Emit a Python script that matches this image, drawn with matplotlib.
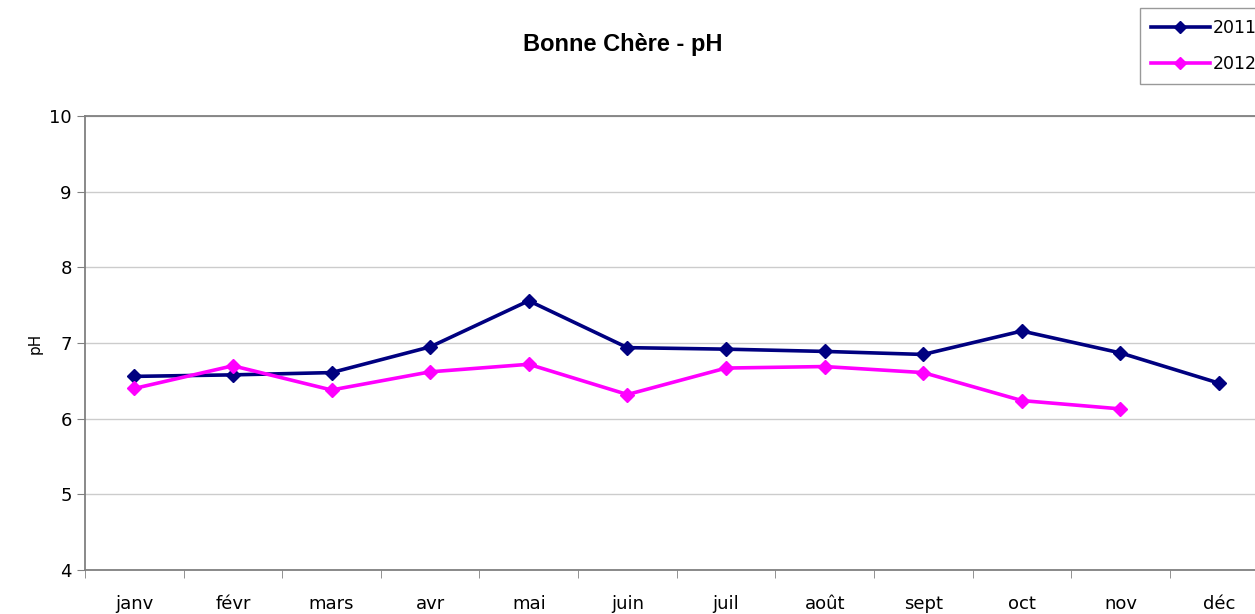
import numpy as np
import matplotlib.pyplot as plt

mois = ['janv', 'févr', 'mars', 'avr', 'mai', 'juin', 'juil', 'août', 'sept', 'oct', 'nov', 'déc']
ph_2011 = [6.56, 6.58, 6.61, 6.95, 7.56, 6.94, 6.92, 6.89, 6.85, 7.16, 6.87, 6.47]
ph_2012 = [6.40, 6.70, 6.38, 6.62, 6.72, 6.32, 6.67, 6.69, 6.61, 6.24, 6.13]

fig = plt.figure(figsize=(12.55, 6.14), dpi=100)
ax = fig.add_axes([0.0677, 0.0717, 0.943, 0.739])

x = np.arange(len(mois))
ax.plot(x, ph_2011, color='#000080', lw=2.6, marker='D', ms=7, label='2011')
ax.plot(x[:len(ph_2012)], ph_2012, color='#ff00ff', lw=2.6, marker='D', ms=7, label='2012')

ax.set_xlim(-0.5, 11.5)
ax.set_ylim(4, 10)
ax.set_yticks(range(4, 11))
ax.grid(axis='y', color='#cccccc', lw=1)
ax.set_axisbelow(True)

# category labels centred, tick marks between categories
ax.set_xticks(x)
ax.set_xticklabels(mois)
ax.set_xticks(np.arange(-0.5, 12, 1), minor=True)
ax.tick_params(axis='x', which='major', length=0, pad=18, labelsize=13)
ax.tick_params(axis='x', which='minor', length=6, color='#808080')
ax.tick_params(axis='y', length=6, color='#808080', labelsize=13)

for s in ['left', 'bottom', 'top']:
    ax.spines[s].set_color('#808080')
    ax.spines[s].set_linewidth(1.3)
ax.spines['right'].set_visible(False)

ax.set_ylabel('pH', fontsize=11, labelpad=5)

fig.text(0.496, 0.927, 'Bonne Chère - pH', ha='center', va='center',
         fontsize=17, fontweight='bold', family='Liberation Sans')

leg = fig.legend(loc='upper left', bbox_to_anchor=(0.908, 0.987), fontsize=12.5,
                 frameon=True, fancybox=False, edgecolor='#808080',
                 handlelength=3.4, borderpad=0.65, labelspacing=1.0,
                 handletextpad=0.15, borderaxespad=0, markerscale=0.85)
leg.get_frame().set_linewidth(1)

fig.savefig('out.png', dpi=100)
